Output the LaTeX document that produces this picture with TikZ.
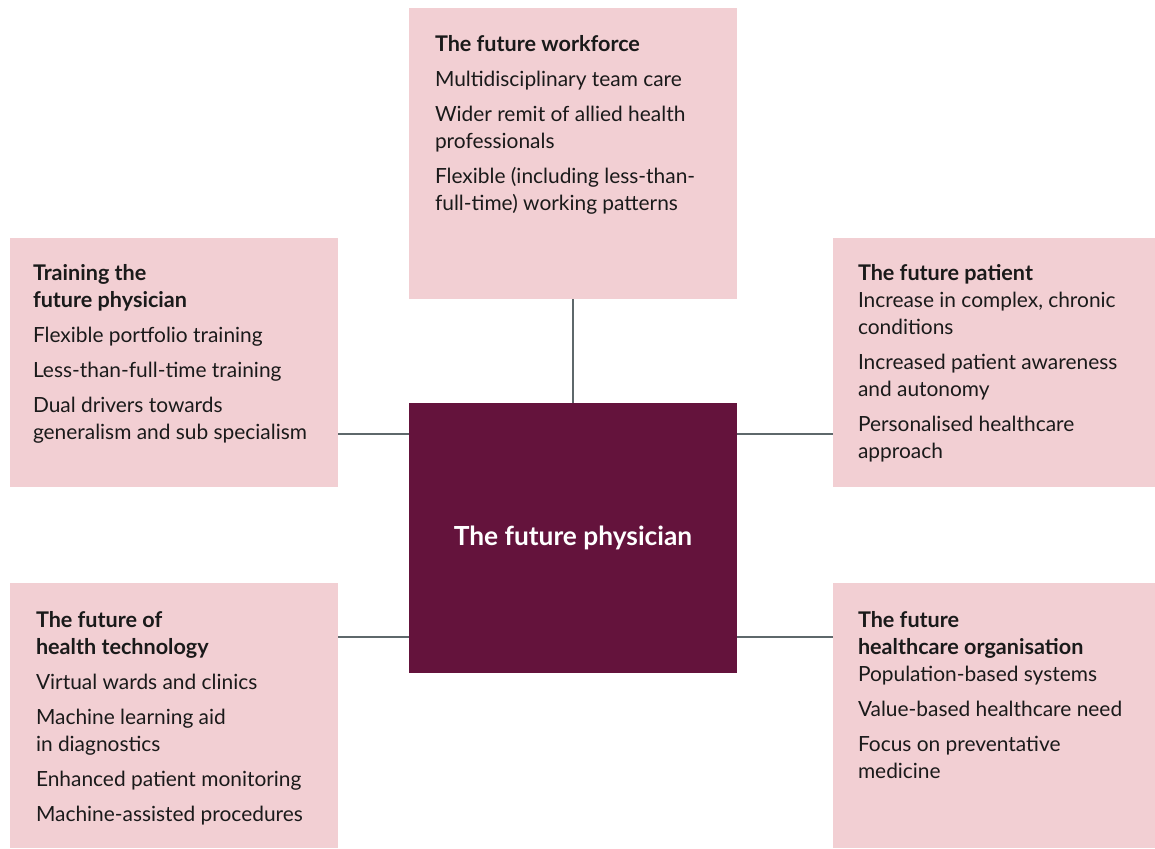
\documentclass[tikz,border=0pt]{standalone}
\usepackage{fontspec}
\setmainfont{Lato}
\definecolor{pinkbg}{HTML}{F2CFD3}
\definecolor{maroon}{HTML}{64133C}
\definecolor{conngrey}{HTML}{5E686B}
\definecolor{txt}{HTML}{1A1A1A}
\tikzset{
  pinkbox/.style={fill=pinkbg, draw=none, inner sep=0pt, outer sep=0pt, anchor=north west},
  centrebox/.style={fill=maroon, draw=none, inner sep=0pt, outer sep=0pt, anchor=north west},
  boxtext/.style={anchor=base west, inner sep=0pt, outer sep=0pt, text=txt},
  conn/.style={draw=conngrey, line width=1.4pt},
}
\newcommand{\boxbody}[2]{\begin{minipage}[t]{#1pt}\fontsize{20.9}{27}\selectfont\raggedright #2\end{minipage}}
\newcommand{\gap}{\par\vspace{8pt}}
\newcommand{\ttl}[1]{{\fontsize{21.6}{27}\selectfont\bfseries #1}}
\begin{document}
\begin{tikzpicture}[x=1pt,y=-1pt]
\useasboundingbox (0,0) rectangle (1155,848);
% boxes
\node[pinkbox, minimum width=328pt, minimum height=291pt] (work) at (409,8) {};
\node[pinkbox, minimum width=328pt, minimum height=249pt] (train) at (10,238) {};
\node[pinkbox, minimum width=322pt, minimum height=249pt] (patient) at (833,238) {};
\node[pinkbox, minimum width=328pt, minimum height=265pt] (tech) at (10,583) {};
\node[pinkbox, minimum width=322pt, minimum height=265pt] (org) at (833,583) {};
\node[centrebox, minimum width=328pt, minimum height=270pt] (phys) at (409,403) {};
% texts
\node[boxtext] (worktext) at (435,52) {\boxbody{300}{\ttl{The future workforce}\gap
Multidisciplinary team care\gap
Wider remit of allied health\newline professionals\gap
Flexible (including less-than-\newline full-time) working patterns}};
\node[boxtext] (traintext) at (33,280) {\boxbody{300}{\ttl{Training the\newline future physician}\gap
Flexible portfolio training\gap
Less-than-full-time training\gap
Dual drivers towards\newline generalism and sub specialism}};
\node[boxtext] (patienttext) at (858,280) {\boxbody{296}{\ttl{The future patient}\par
Increase in complex, chronic\newline conditions\gap
Increased patient awareness\newline and autonomy\gap
Personalised healthcare\newline approach}};
\node[boxtext] (techtext) at (36,627) {\boxbody{300}{\ttl{The future of\newline health technology}\gap
Virtual wards and clinics\gap
Machine learning aid\newline in diagnostics\gap
Enhanced patient monitoring\gap
Machine-assisted procedures}};
\node[boxtext] (orgtext) at (858,627) {\boxbody{296}{\ttl{The future\newline healthcare organisation}\par
Population-based systems\gap
Value-based healthcare need\gap
Focus on preventative\newline medicine}};
\node[text=white, font=\bfseries\fontsize{26.3}{30}\selectfont, inner sep=0pt] (phystext) at (phys.center) {The future physician};
% connectors
\coordinate (rowa) at (0,434);
\coordinate (rowb) at (0,637);
\draw[conn] (work.south) -- (phys.north);
\draw[conn] (train.east |- rowa) -- (phys.west |- rowa);
\draw[conn] (phys.east |- rowa) -- (patient.west |- rowa);
\draw[conn] (tech.east |- rowb) -- (phys.west |- rowb);
\draw[conn] (phys.east |- rowb) -- (org.west |- rowb);
\end{tikzpicture}
\end{document}
